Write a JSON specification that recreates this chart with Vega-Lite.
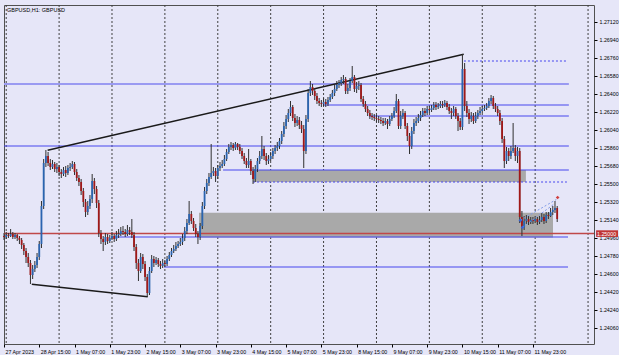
{
"$schema":"https://vega.github.io/schema/vega-lite/v6.json",
"width":590,"height":339,
"padding":{"left":3,"top":4,"right":0,"bottom":0},
"background":"#E6E6F8",
"config":{"view":{"stroke":"#505050","strokeWidth":1,"fill":"#E6E6F8"},"axis":{"labelOverlap":false,"labelFlush":false,"labelBound":false,"tickCount":60}},
"title":{"text":"GBPUSD,H1: GBPUSD","anchor":"start","frame":"group","offset":-9,"fontSize":5.5,"font":"Liberation Sans","fontWeight":"normal","color":"#000","dx":3},
"datasets":{
"vgrid":[{"i":1},{"i":25},{"i":49},{"i":73},{"i":97},{"i":121},{"i":145},{"i":169},{"i":193},{"i":217},{"i":241},{"i":265}],
"rects":[{"i":113.0,"i2":236.8,"p":1.25636,"p2":1.25516},{"i":88.5,"i2":249.1,"p":1.25209,"p2":1.24961}],
"levels":[{"p":1.26496,"i":0,"i2":256.3,"k":"thick"},{"p":1.26286,"i":144.7,"i2":256.3,"k":"thin"},{"p":1.26176,"i":165.6,"i2":256.3,"k":"thin"},{"p":1.25876,"i":0,"i2":256.3,"k":"thin"},{"p":1.25636,"i":99.4,"i2":256.3,"k":"thin"},{"p":1.24966,"i":49.9,"i2":255.9,"k":"thin"},{"p":1.24666,"i":72.6,"i2":255.9,"k":"thin"}],
"dotted":[{"p":1.26726,"i":208.7,"i2":255.4},{"p":1.25516,"i":113,"i2":255.4}],
"redline":[{"p":1.25,"i":0,"i2":267.7,"tag":"1.25000"}],
"trends":[{"i":19.8,"p":1.25833,"i2":208.6,"p2":1.26793},{"i":12.6,"p":1.24493,"i2":65.2,"p2":1.24369}],
"small":[{"i":234.3,"p":1.25133,"i2":250.6,"p2":1.25341},{"i":235.3,"p":1.25063,"i2":249.6,"p2":1.25296}],
"markers":[{"i":234.3,"p":1.25133,"k":"b"},{"i":235.3,"p":1.25063,"k":"b"},{"i":251.2,"p":1.25361,"k":"r"}],
"candles":[
{"i":0,"o":1.24976,"h":1.25006,"l":1.24936,"c":1.24966},
{"i":1,"o":1.24966,"h":1.25016,"l":1.24946,"c":1.24986},
{"i":2,"o":1.24986,"h":1.25006,"l":1.24956,"c":1.24976},
{"i":3,"o":1.24976,"h":1.25046,"l":1.24966,"c":1.24996},
{"i":4,"o":1.24996,"h":1.25016,"l":1.24946,"c":1.24966},
{"i":5,"o":1.24966,"h":1.25006,"l":1.24946,"c":1.24986},
{"i":6,"o":1.24986,"h":1.24996,"l":1.24926,"c":1.24956},
{"i":7,"o":1.24956,"h":1.24976,"l":1.24896,"c":1.24936},
{"i":8,"o":1.24936,"h":1.24956,"l":1.24846,"c":1.24886},
{"i":9,"o":1.24886,"h":1.24906,"l":1.24786,"c":1.24826},
{"i":10,"o":1.24826,"h":1.24856,"l":1.24706,"c":1.24766},
{"i":11,"o":1.24766,"h":1.24806,"l":1.24666,"c":1.24706},
{"i":12,"o":1.24706,"h":1.24736,"l":1.24496,"c":1.24586},
{"i":13,"o":1.24586,"h":1.24686,"l":1.24546,"c":1.24646},
{"i":14,"o":1.24646,"h":1.24726,"l":1.24616,"c":1.24686},
{"i":15,"o":1.24686,"h":1.24806,"l":1.24656,"c":1.24766},
{"i":16,"o":1.24766,"h":1.24926,"l":1.24736,"c":1.24896},
{"i":17,"o":1.24896,"h":1.25326,"l":1.24856,"c":1.25276},
{"i":18,"o":1.25276,"h":1.25746,"l":1.25246,"c":1.25706},
{"i":19,"o":1.25706,"h":1.25836,"l":1.25666,"c":1.25776},
{"i":20,"o":1.25776,"h":1.25816,"l":1.25676,"c":1.25706},
{"i":21,"o":1.25706,"h":1.25746,"l":1.25636,"c":1.25666},
{"i":22,"o":1.25666,"h":1.25736,"l":1.25646,"c":1.25696},
{"i":23,"o":1.25696,"h":1.25716,"l":1.25616,"c":1.25646},
{"i":24,"o":1.25646,"h":1.25706,"l":1.25606,"c":1.25666},
{"i":25,"o":1.25666,"h":1.25686,"l":1.25576,"c":1.25616},
{"i":26,"o":1.25616,"h":1.25646,"l":1.25556,"c":1.25596},
{"i":27,"o":1.25596,"h":1.25666,"l":1.25576,"c":1.25636},
{"i":28,"o":1.25636,"h":1.25676,"l":1.25566,"c":1.25606},
{"i":29,"o":1.25606,"h":1.25686,"l":1.25586,"c":1.25656},
{"i":30,"o":1.25656,"h":1.25706,"l":1.25626,"c":1.25666},
{"i":31,"o":1.25666,"h":1.25726,"l":1.25646,"c":1.25696},
{"i":32,"o":1.25696,"h":1.25716,"l":1.25586,"c":1.25616},
{"i":33,"o":1.25616,"h":1.25646,"l":1.25526,"c":1.25556},
{"i":34,"o":1.25556,"h":1.25586,"l":1.25476,"c":1.25516},
{"i":35,"o":1.25516,"h":1.25546,"l":1.25386,"c":1.25426},
{"i":36,"o":1.25426,"h":1.25456,"l":1.25266,"c":1.25316},
{"i":37,"o":1.25316,"h":1.25346,"l":1.25166,"c":1.25216},
{"i":38,"o":1.25216,"h":1.25326,"l":1.25186,"c":1.25276},
{"i":39,"o":1.25276,"h":1.25386,"l":1.25246,"c":1.25346},
{"i":40,"o":1.25346,"h":1.25596,"l":1.25306,"c":1.25526},
{"i":41,"o":1.25526,"h":1.25556,"l":1.25396,"c":1.25446},
{"i":42,"o":1.25446,"h":1.25476,"l":1.25256,"c":1.25306},
{"i":43,"o":1.25306,"h":1.25336,"l":1.24966,"c":1.25006},
{"i":44,"o":1.25006,"h":1.25036,"l":1.24896,"c":1.24946},
{"i":45,"o":1.24946,"h":1.24976,"l":1.24826,"c":1.24916},
{"i":46,"o":1.24916,"h":1.25006,"l":1.24886,"c":1.24966},
{"i":47,"o":1.24966,"h":1.24996,"l":1.24896,"c":1.24926},
{"i":48,"o":1.24926,"h":1.24986,"l":1.24906,"c":1.24956},
{"i":49,"o":1.24956,"h":1.25016,"l":1.24936,"c":1.24976},
{"i":50,"o":1.24976,"h":1.24996,"l":1.24916,"c":1.24946},
{"i":51,"o":1.24946,"h":1.25026,"l":1.24926,"c":1.24986},
{"i":52,"o":1.24986,"h":1.25046,"l":1.24956,"c":1.24996},
{"i":53,"o":1.24996,"h":1.25066,"l":1.24976,"c":1.25026},
{"i":54,"o":1.25026,"h":1.25076,"l":1.24986,"c":1.25016},
{"i":55,"o":1.25016,"h":1.25046,"l":1.24966,"c":1.24996},
{"i":56,"o":1.24996,"h":1.25086,"l":1.24976,"c":1.25036},
{"i":57,"o":1.25036,"h":1.25066,"l":1.24986,"c":1.25016},
{"i":58,"o":1.25016,"h":1.25146,"l":1.24956,"c":1.24986},
{"i":59,"o":1.24986,"h":1.25016,"l":1.24826,"c":1.24866},
{"i":60,"o":1.24866,"h":1.24896,"l":1.24646,"c":1.24706},
{"i":61,"o":1.24706,"h":1.24746,"l":1.24526,"c":1.24626},
{"i":62,"o":1.24626,"h":1.24806,"l":1.24606,"c":1.24766},
{"i":63,"o":1.24766,"h":1.24796,"l":1.24646,"c":1.24696},
{"i":64,"o":1.24696,"h":1.24726,"l":1.24526,"c":1.24566},
{"i":65,"o":1.24566,"h":1.24596,"l":1.24366,"c":1.24406},
{"i":66,"o":1.24406,"h":1.24666,"l":1.24386,"c":1.24626},
{"i":67,"o":1.24626,"h":1.24786,"l":1.24606,"c":1.24746},
{"i":68,"o":1.24746,"h":1.24776,"l":1.24666,"c":1.24706},
{"i":69,"o":1.24706,"h":1.24766,"l":1.24686,"c":1.24736},
{"i":70,"o":1.24736,"h":1.24756,"l":1.24666,"c":1.24696},
{"i":71,"o":1.24696,"h":1.24726,"l":1.24646,"c":1.24676},
{"i":72,"o":1.24676,"h":1.24746,"l":1.24656,"c":1.24706},
{"i":73,"o":1.24706,"h":1.24736,"l":1.24666,"c":1.24696},
{"i":74,"o":1.24696,"h":1.24776,"l":1.24676,"c":1.24746},
{"i":75,"o":1.24746,"h":1.24816,"l":1.24726,"c":1.24786},
{"i":76,"o":1.24786,"h":1.24856,"l":1.24766,"c":1.24826},
{"i":77,"o":1.24826,"h":1.24886,"l":1.24806,"c":1.24846},
{"i":78,"o":1.24846,"h":1.24916,"l":1.24826,"c":1.24876},
{"i":79,"o":1.24876,"h":1.24926,"l":1.24856,"c":1.24896},
{"i":80,"o":1.24896,"h":1.24956,"l":1.24876,"c":1.24916},
{"i":81,"o":1.24916,"h":1.24996,"l":1.24886,"c":1.24956},
{"i":82,"o":1.24956,"h":1.25066,"l":1.24926,"c":1.25026},
{"i":83,"o":1.25026,"h":1.25146,"l":1.24996,"c":1.25106},
{"i":84,"o":1.25106,"h":1.25326,"l":1.25086,"c":1.25196},
{"i":85,"o":1.25196,"h":1.25226,"l":1.25096,"c":1.25126},
{"i":86,"o":1.25126,"h":1.25156,"l":1.25026,"c":1.25056},
{"i":87,"o":1.25056,"h":1.25096,"l":1.24966,"c":1.24996},
{"i":88,"o":1.24996,"h":1.25026,"l":1.24896,"c":1.24966},
{"i":89,"o":1.24966,"h":1.25106,"l":1.24936,"c":1.25076},
{"i":90,"o":1.25076,"h":1.25316,"l":1.25046,"c":1.25276},
{"i":91,"o":1.25276,"h":1.25466,"l":1.25246,"c":1.25426},
{"i":92,"o":1.25426,"h":1.25546,"l":1.25396,"c":1.25506},
{"i":93,"o":1.25506,"h":1.25606,"l":1.25476,"c":1.25566},
{"i":94,"o":1.25566,"h":1.25896,"l":1.25546,"c":1.25606},
{"i":95,"o":1.25606,"h":1.25666,"l":1.25576,"c":1.25626},
{"i":96,"o":1.25626,"h":1.25656,"l":1.25516,"c":1.25576},
{"i":97,"o":1.25576,"h":1.25686,"l":1.25546,"c":1.25656},
{"i":98,"o":1.25656,"h":1.25716,"l":1.25626,"c":1.25676},
{"i":99,"o":1.25676,"h":1.25736,"l":1.25656,"c":1.25696},
{"i":100,"o":1.25696,"h":1.25786,"l":1.25676,"c":1.25746},
{"i":101,"o":1.25746,"h":1.25846,"l":1.25726,"c":1.25816},
{"i":102,"o":1.25816,"h":1.25896,"l":1.25796,"c":1.25866},
{"i":103,"o":1.25866,"h":1.25916,"l":1.25836,"c":1.25886},
{"i":104,"o":1.25886,"h":1.25906,"l":1.25826,"c":1.25856},
{"i":105,"o":1.25856,"h":1.25916,"l":1.25836,"c":1.25896},
{"i":106,"o":1.25896,"h":1.25906,"l":1.25836,"c":1.25866},
{"i":107,"o":1.25866,"h":1.25896,"l":1.25796,"c":1.25826},
{"i":108,"o":1.25826,"h":1.25856,"l":1.25746,"c":1.25776},
{"i":109,"o":1.25776,"h":1.25806,"l":1.25696,"c":1.25726},
{"i":110,"o":1.25726,"h":1.25756,"l":1.25656,"c":1.25686},
{"i":111,"o":1.25686,"h":1.25846,"l":1.25656,"c":1.25726},
{"i":112,"o":1.25726,"h":1.25746,"l":1.25586,"c":1.25626},
{"i":113,"o":1.25626,"h":1.25666,"l":1.25496,"c":1.25546},
{"i":114,"o":1.25546,"h":1.25686,"l":1.25516,"c":1.25646},
{"i":115,"o":1.25646,"h":1.25756,"l":1.25616,"c":1.25726},
{"i":116,"o":1.25726,"h":1.25826,"l":1.25696,"c":1.25776},
{"i":117,"o":1.25776,"h":1.25976,"l":1.25746,"c":1.25846},
{"i":118,"o":1.25846,"h":1.25876,"l":1.25736,"c":1.25776},
{"i":119,"o":1.25776,"h":1.25806,"l":1.25686,"c":1.25726},
{"i":120,"o":1.25726,"h":1.25786,"l":1.25696,"c":1.25746},
{"i":121,"o":1.25746,"h":1.25816,"l":1.25726,"c":1.25776},
{"i":122,"o":1.25776,"h":1.25856,"l":1.25746,"c":1.25826},
{"i":123,"o":1.25826,"h":1.25886,"l":1.25796,"c":1.25856},
{"i":124,"o":1.25856,"h":1.25916,"l":1.25826,"c":1.25876},
{"i":125,"o":1.25876,"h":1.25956,"l":1.25846,"c":1.25926},
{"i":126,"o":1.25926,"h":1.26026,"l":1.25896,"c":1.25996},
{"i":127,"o":1.25996,"h":1.26116,"l":1.25966,"c":1.26076},
{"i":128,"o":1.26076,"h":1.26186,"l":1.26046,"c":1.26146},
{"i":129,"o":1.26146,"h":1.26246,"l":1.26116,"c":1.26206},
{"i":130,"o":1.26206,"h":1.26326,"l":1.26176,"c":1.26266},
{"i":131,"o":1.26266,"h":1.26286,"l":1.26126,"c":1.26156},
{"i":132,"o":1.26156,"h":1.26196,"l":1.26066,"c":1.26106},
{"i":133,"o":1.26106,"h":1.26176,"l":1.26076,"c":1.26136},
{"i":134,"o":1.26136,"h":1.26166,"l":1.26046,"c":1.26086},
{"i":135,"o":1.26086,"h":1.26126,"l":1.26006,"c":1.26046},
{"i":136,"o":1.26046,"h":1.26086,"l":1.25656,"c":1.25826},
{"i":137,"o":1.25826,"h":1.26186,"l":1.25796,"c":1.26146},
{"i":138,"o":1.26146,"h":1.26446,"l":1.26116,"c":1.26406},
{"i":139,"o":1.26406,"h":1.26526,"l":1.26376,"c":1.26466},
{"i":140,"o":1.26466,"h":1.26496,"l":1.26386,"c":1.26426},
{"i":141,"o":1.26426,"h":1.26456,"l":1.26336,"c":1.26376},
{"i":142,"o":1.26376,"h":1.26406,"l":1.26296,"c":1.26326},
{"i":143,"o":1.26326,"h":1.26356,"l":1.26276,"c":1.26306},
{"i":144,"o":1.26306,"h":1.26336,"l":1.26266,"c":1.26296},
{"i":145,"o":1.26296,"h":1.26356,"l":1.26276,"c":1.26316},
{"i":146,"o":1.26316,"h":1.26346,"l":1.26266,"c":1.26296},
{"i":147,"o":1.26296,"h":1.26366,"l":1.26276,"c":1.26336},
{"i":148,"o":1.26336,"h":1.26396,"l":1.26316,"c":1.26366},
{"i":149,"o":1.26366,"h":1.26436,"l":1.26346,"c":1.26406},
{"i":150,"o":1.26406,"h":1.26486,"l":1.26376,"c":1.26446},
{"i":151,"o":1.26446,"h":1.26526,"l":1.26426,"c":1.26486},
{"i":152,"o":1.26486,"h":1.26536,"l":1.26456,"c":1.26506},
{"i":153,"o":1.26506,"h":1.26566,"l":1.26476,"c":1.26536},
{"i":154,"o":1.26536,"h":1.26586,"l":1.26496,"c":1.26546},
{"i":155,"o":1.26546,"h":1.26566,"l":1.26396,"c":1.26426},
{"i":156,"o":1.26426,"h":1.26496,"l":1.26396,"c":1.26456},
{"i":157,"o":1.26456,"h":1.26556,"l":1.26426,"c":1.26526},
{"i":158,"o":1.26526,"h":1.26676,"l":1.26506,"c":1.26566},
{"i":159,"o":1.26566,"h":1.26586,"l":1.26416,"c":1.26446},
{"i":160,"o":1.26446,"h":1.26516,"l":1.26406,"c":1.26476},
{"i":161,"o":1.26476,"h":1.26526,"l":1.26436,"c":1.26486},
{"i":162,"o":1.26486,"h":1.26506,"l":1.26316,"c":1.26346},
{"i":163,"o":1.26346,"h":1.26376,"l":1.26266,"c":1.26296},
{"i":164,"o":1.26296,"h":1.26326,"l":1.26216,"c":1.26246},
{"i":165,"o":1.26246,"h":1.26276,"l":1.26176,"c":1.26206},
{"i":166,"o":1.26206,"h":1.26236,"l":1.26146,"c":1.26176},
{"i":167,"o":1.26176,"h":1.26206,"l":1.26136,"c":1.26166},
{"i":168,"o":1.26166,"h":1.26196,"l":1.26126,"c":1.26156},
{"i":169,"o":1.26156,"h":1.26186,"l":1.26116,"c":1.26146},
{"i":170,"o":1.26146,"h":1.26176,"l":1.26106,"c":1.26136},
{"i":171,"o":1.26136,"h":1.26166,"l":1.26096,"c":1.26126},
{"i":172,"o":1.26126,"h":1.26156,"l":1.26076,"c":1.26106},
{"i":173,"o":1.26106,"h":1.26156,"l":1.26086,"c":1.26126},
{"i":174,"o":1.26126,"h":1.26146,"l":1.26046,"c":1.26096},
{"i":175,"o":1.26096,"h":1.26176,"l":1.26076,"c":1.26146},
{"i":176,"o":1.26146,"h":1.26206,"l":1.26126,"c":1.26176},
{"i":177,"o":1.26176,"h":1.26266,"l":1.26156,"c":1.26226},
{"i":178,"o":1.26226,"h":1.26396,"l":1.26206,"c":1.26326},
{"i":179,"o":1.26326,"h":1.26346,"l":1.26046,"c":1.26076},
{"i":180,"o":1.26076,"h":1.26226,"l":1.26046,"c":1.26176},
{"i":181,"o":1.26176,"h":1.26246,"l":1.26146,"c":1.26206},
{"i":182,"o":1.26206,"h":1.26226,"l":1.26046,"c":1.26076},
{"i":183,"o":1.26076,"h":1.26106,"l":1.25926,"c":1.25976},
{"i":184,"o":1.25976,"h":1.26006,"l":1.25796,"c":1.25876},
{"i":185,"o":1.25876,"h":1.26066,"l":1.25846,"c":1.26026},
{"i":186,"o":1.26026,"h":1.26146,"l":1.25996,"c":1.26106},
{"i":187,"o":1.26106,"h":1.26166,"l":1.26076,"c":1.26126},
{"i":188,"o":1.26126,"h":1.26196,"l":1.26106,"c":1.26156},
{"i":189,"o":1.26156,"h":1.26226,"l":1.26126,"c":1.26186},
{"i":190,"o":1.26186,"h":1.26256,"l":1.26166,"c":1.26226},
{"i":191,"o":1.26226,"h":1.26256,"l":1.26176,"c":1.26206},
{"i":192,"o":1.26206,"h":1.26276,"l":1.26186,"c":1.26246},
{"i":193,"o":1.26246,"h":1.26276,"l":1.26206,"c":1.26236},
{"i":194,"o":1.26236,"h":1.26286,"l":1.26216,"c":1.26256},
{"i":195,"o":1.26256,"h":1.26316,"l":1.26236,"c":1.26286},
{"i":196,"o":1.26286,"h":1.26316,"l":1.26236,"c":1.26266},
{"i":197,"o":1.26266,"h":1.26306,"l":1.26246,"c":1.26276},
{"i":198,"o":1.26276,"h":1.26326,"l":1.26256,"c":1.26296},
{"i":199,"o":1.26296,"h":1.26326,"l":1.26256,"c":1.26286},
{"i":200,"o":1.26286,"h":1.26336,"l":1.26266,"c":1.26306},
{"i":201,"o":1.26306,"h":1.26326,"l":1.26236,"c":1.26266},
{"i":202,"o":1.26266,"h":1.26296,"l":1.26196,"c":1.26226},
{"i":203,"o":1.26226,"h":1.26256,"l":1.26146,"c":1.26206},
{"i":204,"o":1.26206,"h":1.26276,"l":1.26176,"c":1.26246},
{"i":205,"o":1.26246,"h":1.26266,"l":1.26146,"c":1.26176},
{"i":206,"o":1.26176,"h":1.26206,"l":1.26026,"c":1.26126},
{"i":207,"o":1.26126,"h":1.26156,"l":1.26036,"c":1.26066},
{"i":208,"o":1.26066,"h":1.26796,"l":1.26036,"c":1.26646},
{"i":209,"o":1.26646,"h":1.26706,"l":1.26226,"c":1.26276},
{"i":210,"o":1.26276,"h":1.26326,"l":1.26166,"c":1.26206},
{"i":211,"o":1.26206,"h":1.26246,"l":1.26096,"c":1.26146},
{"i":212,"o":1.26146,"h":1.26216,"l":1.26116,"c":1.26176},
{"i":213,"o":1.26176,"h":1.26206,"l":1.26096,"c":1.26126},
{"i":214,"o":1.26126,"h":1.26216,"l":1.26106,"c":1.26176},
{"i":215,"o":1.26176,"h":1.26236,"l":1.26146,"c":1.26206},
{"i":216,"o":1.26206,"h":1.26266,"l":1.26186,"c":1.26226},
{"i":217,"o":1.26226,"h":1.26276,"l":1.26206,"c":1.26246},
{"i":218,"o":1.26246,"h":1.26286,"l":1.26226,"c":1.26256},
{"i":219,"o":1.26256,"h":1.26306,"l":1.26236,"c":1.26276},
{"i":220,"o":1.26276,"h":1.26356,"l":1.26256,"c":1.26326},
{"i":221,"o":1.26326,"h":1.26386,"l":1.26296,"c":1.26356},
{"i":222,"o":1.26356,"h":1.26376,"l":1.26246,"c":1.26276},
{"i":223,"o":1.26276,"h":1.26306,"l":1.26216,"c":1.26246},
{"i":224,"o":1.26246,"h":1.26276,"l":1.26176,"c":1.26206},
{"i":225,"o":1.26206,"h":1.26236,"l":1.26086,"c":1.26126},
{"i":226,"o":1.26126,"h":1.26156,"l":1.25906,"c":1.25946},
{"i":227,"o":1.25946,"h":1.25976,"l":1.25656,"c":1.25726},
{"i":228,"o":1.25726,"h":1.25866,"l":1.25696,"c":1.25826},
{"i":229,"o":1.25826,"h":1.25856,"l":1.25726,"c":1.25776},
{"i":230,"o":1.25776,"h":1.25876,"l":1.25746,"c":1.25826},
{"i":231,"o":1.25826,"h":1.26106,"l":1.25806,"c":1.25856},
{"i":232,"o":1.25856,"h":1.25886,"l":1.25726,"c":1.25776},
{"i":233,"o":1.25776,"h":1.25866,"l":1.25706,"c":1.25826},
{"i":234,"o":1.25826,"h":1.25856,"l":1.25106,"c":1.25166},
{"i":235,"o":1.25166,"h":1.25226,"l":1.24976,"c":1.25066},
{"i":236,"o":1.25066,"h":1.25176,"l":1.25036,"c":1.25126},
{"i":237,"o":1.25126,"h":1.25186,"l":1.25096,"c":1.25146},
{"i":238,"o":1.25146,"h":1.25176,"l":1.25086,"c":1.25116},
{"i":239,"o":1.25116,"h":1.25166,"l":1.25096,"c":1.25136},
{"i":240,"o":1.25136,"h":1.25166,"l":1.25096,"c":1.25126},
{"i":241,"o":1.25126,"h":1.25176,"l":1.25106,"c":1.25146},
{"i":242,"o":1.25146,"h":1.25166,"l":1.25086,"c":1.25116},
{"i":243,"o":1.25116,"h":1.25176,"l":1.25096,"c":1.25136},
{"i":244,"o":1.25136,"h":1.25206,"l":1.25116,"c":1.25166},
{"i":245,"o":1.25166,"h":1.25196,"l":1.25096,"c":1.25126},
{"i":246,"o":1.25126,"h":1.25216,"l":1.25106,"c":1.25186},
{"i":247,"o":1.25186,"h":1.25216,"l":1.25146,"c":1.25176},
{"i":248,"o":1.25176,"h":1.25256,"l":1.25166,"c":1.25216},
{"i":249,"o":1.25216,"h":1.25276,"l":1.25186,"c":1.25236},
{"i":250,"o":1.25236,"h":1.25326,"l":1.25206,"c":1.25256},
{"i":251,"o":1.25256,"h":1.25276,"l":1.25116,"c":1.25146}
]},
"layer":[
{"data":{"name":"candles"},"mark":{"type":"rule","color":"#303030","strokeWidth":1,"opacity":0},
 "encoding":{
 "x":{"field":"i","type":"quantitative","title":null,"scale":{"domain":[0,267.7],"nice":false,"zero":false},
  "axis":{"orient":"bottom","title":null,"tickCount":60,"values":[0,16,32,48,64,80,96,112,128,144,160,176,192,208,224,240],
  "labelExpr":"['27 Apr 2023','28 Apr 15:00','1 May 07:00','1 May 23:00','2 May 15:00','3 May 07:00','3 May 23:00','4 May 15:00','5 May 07:00','5 May 23:00','8 May 15:00','9 May 07:00','9 May 23:00','10 May 15:00','11 May 07:00','11 May 23:00'][round(datum.value/16)]",
  "labelAlign":"left","labelBaseline":"top","labelPadding":2,"labelOffset":1,"tickSize":3,"tickColor":"#000","labelColor":"#000","labelFont":"Liberation Sans","labelFontSize":5.3,"domain":false,"grid":false,"labelOverlap":false,"labelFlush":false,"labelBound":false}},
 "y":{"field":"l","type":"quantitative","title":null,"scale":{"domain":[1.23896,1.27286],"nice":false,"zero":false},
  "axis":{"orient":"right","title":null,"tickCount":60,"values":[1.2406,1.2424,1.2442,1.246,1.2478,1.2496,1.2514,1.2532,1.255,1.2568,1.2586,1.2604,1.2622,1.264,1.2658,1.2676,1.2694,1.2712],
  "format":".5f","tickSize":3,"tickColor":"#000","labelColor":"#000","labelFont":"Liberation Sans","labelFontSize":5.3,"labelPadding":2,"domain":false,"grid":false,"labelOverlap":false,"labelFlush":false,"labelBound":false}},
 "y2":{"field":"h"}}},
{"data":{"name":"vgrid"},"mark":{"type":"rule","color":"#404040","strokeWidth":1,"strokeDash":[2,2]},
 "encoding":{"x":{"field":"i","type":"quantitative","title":null}}},
{"data":{"name":"rects"},"mark":{"type":"rect","color":"#A9A9A9"},
 "encoding":{"x":{"field":"i","type":"quantitative","title":null},"x2":{"field":"i2"},
 "y":{"field":"p","type":"quantitative","title":null},"y2":{"field":"p2"}}},
{"data":{"name":"levels"},"mark":{"type":"rule"},
 "encoding":{"x":{"field":"i","type":"quantitative","title":null},"x2":{"field":"i2"},
 "y":{"field":"p","type":"quantitative","title":null},
 "color":{"condition":{"test":"datum.k=='thick'","value":"#9A9AF2"},"value":"#4646EE"},
 "strokeWidth":{"condition":{"test":"datum.k=='thick'","value":2},"value":1}}},
{"data":{"name":"redline"},"mark":{"type":"rule","color":"#C04848","strokeWidth":1.5},
 "encoding":{"x":{"field":"i","type":"quantitative","title":null},"x2":{"field":"i2"},
 "y":{"field":"p","type":"quantitative","title":null}}},
{"data":{"name":"dotted"},"mark":{"type":"rule","color":"#4646EE","strokeWidth":1,"strokeDash":[2,2]},
 "encoding":{"x":{"field":"i","type":"quantitative","title":null},"x2":{"field":"i2"},
 "y":{"field":"p","type":"quantitative","title":null}}},
{"data":{"name":"trends"},"mark":{"type":"rule","color":"#1A1A1A","strokeWidth":1.4},
 "encoding":{"x":{"field":"i","type":"quantitative","title":null},"x2":{"field":"i2"},
 "y":{"field":"p","type":"quantitative","title":null},"y2":{"field":"p2"}}},
{"data":{"name":"candles"},"mark":{"type":"rule","color":"#303030","strokeWidth":1},
 "encoding":{"x":{"field":"i","type":"quantitative","title":null},
 "y":{"field":"l","type":"quantitative","title":null},"y2":{"field":"h"}}},
{"data":{"name":"candles"},"mark":{"type":"rule","strokeWidth":1.8},
 "encoding":{"x":{"field":"i","type":"quantitative","title":null},
 "y":{"field":"o","type":"quantitative","title":null},"y2":{"field":"c"},
 "color":{"condition":{"test":"datum.c >= datum.o","value":"#2A64B0"},"value":"#A01818"}}},
{"data":{"name":"small"},"mark":{"type":"rule","color":"#7F9AE8","strokeWidth":1,"strokeDash":[2,2]},
 "encoding":{"x":{"field":"i","type":"quantitative","title":null},"x2":{"field":"i2"},
 "y":{"field":"p","type":"quantitative","title":null},"y2":{"field":"p2"}}},
{"data":{"name":"markers"},"mark":{"type":"point","shape":"diamond","filled":true,"size":14,"opacity":1},
 "encoding":{"x":{"field":"i","type":"quantitative","title":null},
 "y":{"field":"p","type":"quantitative","title":null},
 "color":{"condition":{"test":"datum.k=='r'","value":"#D04040"},"value":"#3A66D8"}}},
{"data":{"name":"redline"},"mark":{"type":"point","shape":"M0.7,-1.1H8V1.1H0.7Z","size":36,"filled":true,"color":"#C03434","opacity":1},
 "encoding":{"x":{"value":"width"},
 "y":{"field":"p","type":"quantitative","title":null}}},
{"data":{"name":"redline"},"mark":{"type":"text","color":"#FFFFFF","align":"left","baseline":"middle","dx":3,"fontSize":5.3,"font":"Liberation Sans"},
 "encoding":{"x":{"value":"width"},
 "y":{"field":"p","type":"quantitative","title":null},
 "text":{"field":"tag"}}}
]
}
